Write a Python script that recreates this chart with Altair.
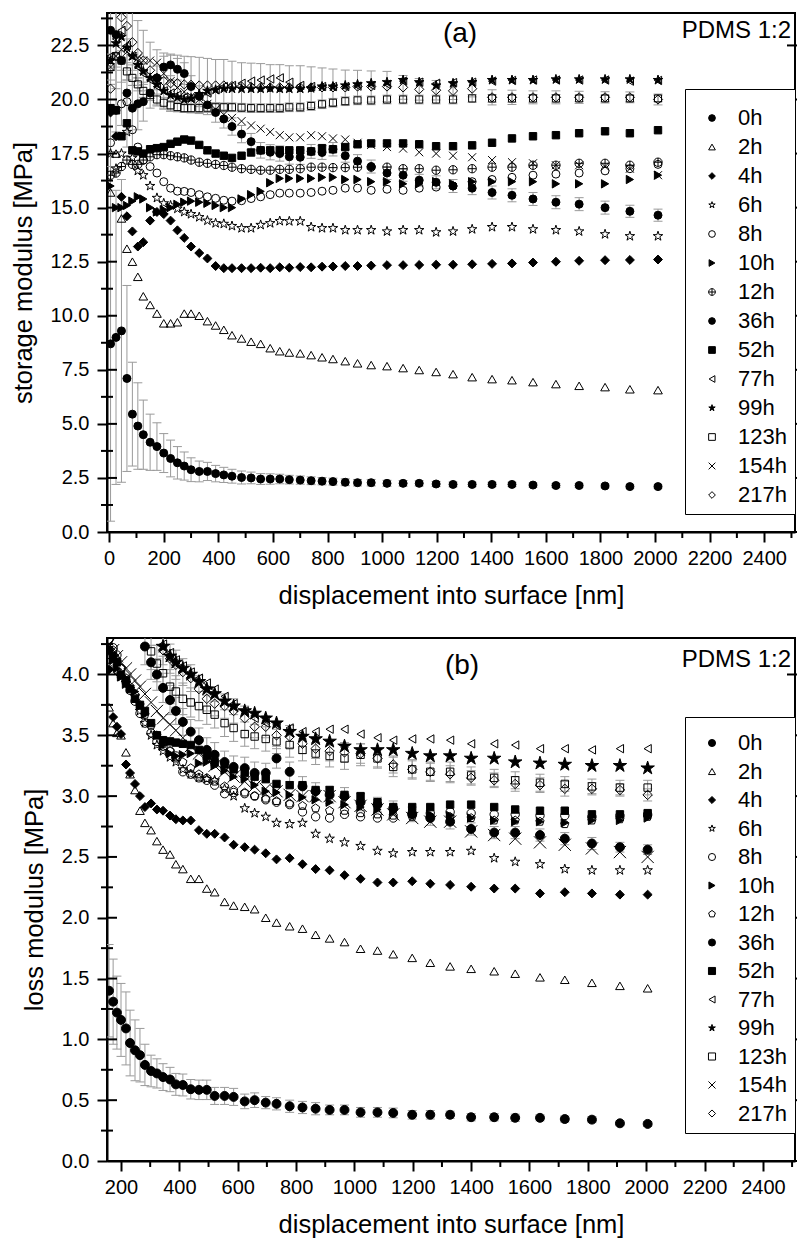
import altair as alt
import pandas as pd

FONT = "Liberation Sans"
SERIES = ["0h", "2h", "4h", "6h", "8h", "10h", "12h", "36h", "52h", "77h", "99h", "123h", "154h", "217h"]

# ---------------- panel (a): storage modulus ----------------
XA = [5, 25, 45, 65, 85, 105, 125, 150, 175, 200, 225, 250, 275, 300, 330, 360, 390, 420, 450, 485,
      520, 555, 590, 625, 660, 700, 740, 780, 820, 865, 910, 960, 1018, 1077, 1136, 1198, 1260, 1330,
      1403, 1476, 1553, 1637, 1722, 1817, 1908, 2011]
A_0h = [8.7, 9.0, 9.3, 7.1, 5.45, 4.9, 4.5, 4.15, 3.95, 3.65, 3.4, 3.2, 3.05, 2.88, 2.8, 2.8, 2.7, 2.64, 2.58, 2.52,
        2.5, 2.45, 2.45, 2.45, 2.42, 2.4, 2.37, 2.35, 2.33, 2.3, 2.28, 2.28, 2.25, 2.25, 2.25, 2.22, 2.2, 2.2,
        2.2, 2.2, 2.17, 2.15, 2.15, 2.13, 2.1, 2.1]
A_2h = [15.7, 17.5, 14.5, 13.1, 12.5, 11.8, 10.9, 10.5, 10.1, 9.65, 9.65, 9.7, 10.1, 10.1, 10.0, 9.75, 9.55, 9.35, 9.1, 8.95,
        8.8, 8.7, 8.5, 8.36, 8.3, 8.26, 8.18, 8.08, 8.0, 7.9, 7.8, 7.72, 7.67, 7.58, 7.49, 7.4, 7.3, 7.16,
        7.07, 7.02, 6.93, 6.84, 6.76, 6.7, 6.6, 6.56]
A_4h = [19.4, 18.3, 15.5, 14.6, 13.9, 13.2, 13.4, 14.4, 14.8, 14.7, 14.4, 13.95, 13.6, 13.2, 12.9, 12.65, 12.3, 12.2, 12.2, 12.2,
        12.2, 12.22, 12.2, 12.24, 12.22, 12.25, 12.24, 12.27, 12.28, 12.3, 12.3, 12.32, 12.34, 12.34, 12.35, 12.36, 12.36, 12.38,
        12.4, 12.42, 12.46, 12.5, 12.54, 12.57, 12.58, 12.6]
A_6h = [17.5, 16.8, 17.5, 18.5, 17.3, 16.7, 16.5, 16.0, 15.45, 15.2, 15.1, 14.95, 14.8, 14.7, 14.56, 14.4, 14.28, 14.25, 14.15, 14.05,
        14.05, 14.2, 14.28, 14.38, 14.37, 14.37, 14.1, 14.05, 14.05, 13.96, 13.96, 13.96, 13.9, 13.96, 13.96, 13.86, 13.9, 14.0,
        14.1, 14.1, 14.0, 13.96, 13.9, 13.77, 13.68, 13.68]
A_8h = [18.0, 19.5, 19.8, 19.9, 18.6, 17.8, 17.2, 16.9, 16.6, 16.2, 15.9, 15.76, 15.75, 15.7, 15.6, 15.5, 15.43, 15.34, 15.3, 15.32,
        15.42, 15.5, 15.6, 15.67, 15.67, 15.67, 15.7, 15.76, 15.8, 15.9, 15.9, 15.8, 15.85, 15.8, 15.9, 15.95, 16.0, 16.2,
        16.3, 16.4, 16.5, 16.55, 16.6, 16.7, 16.8, 17.0]
A_10h = [16.0, 15.0, 15.0, 15.1, 15.3, 15.5, 15.4, 15.0, 14.8, 14.9, 15.0, 15.15, 15.25, 15.3, 15.25, 15.2, 15.1, 15.0, 15.0, 15.4,
         15.6, 15.75, 16.15, 16.35, 16.35, 16.35, 16.35, 16.4, 16.4, 16.3, 16.3, 16.2, 16.2, 16.1, 16.1, 16.2, 16.1, 16.2,
         16.2, 16.2, 16.2, 16.1, 16.1, 16.1, 16.3, 16.5]
A_12h = [16.5, 16.6, 16.9, 17.2, 17.0, 17.0, 17.2, 17.35, 17.45, 17.45, 17.4, 17.35, 17.3, 17.2, 17.1, 17.05, 17.0, 16.95, 16.87, 16.8,
         16.77, 16.73, 16.73, 16.77, 16.77, 16.8, 16.87, 16.87, 16.85, 16.85, 16.87, 16.87, 16.87, 16.8, 16.8, 16.73, 16.75, 16.8,
         16.87, 16.87, 16.96, 16.96, 17.05, 17.05, 16.96, 17.1]
A_36h = [23.2, 23.0, 21.8, 20.3, 19.6, 19.8, 19.9, 20.3, 21.0, 21.5, 21.6, 21.4, 21.2, 20.6, 20.15, 19.75, 19.4, 19.1, 18.75, 18.4,
         18.05, 17.65, 17.56, 17.5, 17.35, 17.33, 17.6, 17.55, 17.7, 17.4, 17.15, 16.9, 16.6, 16.5, 16.27, 16.17, 16.0, 15.9,
         15.7, 15.57, 15.4, 15.25, 15.16, 15.0, 14.83, 14.65]
A_52h = [19.6, 19.5, 18.3, 18.9, 17.65, 17.6, 17.5, 17.7, 17.75, 17.8, 17.95, 18.05, 18.15, 18.1, 17.9, 17.65, 17.5, 17.4, 17.3, 17.4,
         17.55, 17.65, 17.65, 17.65, 17.65, 17.65, 17.6, 17.75, 17.7, 17.8, 17.93, 17.97, 17.97, 17.97, 17.93, 17.84, 17.84, 17.88,
         18.0, 18.2, 18.3, 18.35, 18.44, 18.53, 18.44, 18.58]
A_77h = [22.0, 22.8, 23.2, 22.5, 22.0, 21.5, 21.2, 20.9, 20.6, 20.4, 20.3, 20.2, 20.1, 20.05, 20.15, 20.3, 20.45, 20.6, 20.65, 20.75,
         20.85, 20.9, 20.95, 21.0, 20.8, 20.65, 20.6, 20.6, 20.6, 20.6, 20.62, 20.65, 20.7, 20.85, 20.8, 20.75, 20.78, 20.8,
         20.85, 20.88, 20.9, 20.9, 20.9, 20.9, 20.85, 20.88]
A_99h = [21.8, 22.6, 22.9, 22.4, 22.0, 21.6, 21.3, 21.0, 20.7, 20.4, 20.2, 20.1, 20.0, 20.05, 20.25, 20.4, 20.45, 20.5, 20.5, 20.5,
         20.5, 20.5, 20.52, 20.5, 20.5, 20.5, 20.52, 20.6, 20.6, 20.65, 20.7, 20.75, 20.8, 20.9, 20.8, 20.65, 20.75, 20.8,
         20.9, 20.9, 20.9, 20.93, 20.93, 20.93, 20.93, 20.9]
A_123h = [21.5, 22.0, 21.8, 21.3, 21.0, 20.7, 20.4, 20.2, 20.0, 19.85, 19.73, 19.65, 19.6, 19.6, 19.6, 19.62, 19.64, 19.64, 19.64, 19.62,
          19.6, 19.6, 19.6, 19.6, 19.64, 19.64, 19.7, 19.78, 19.85, 19.92, 19.96, 19.96, 20.0, 20.0, 20.0, 20.0, 20.0, 20.05,
          20.05, 20.05, 20.05, 20.05, 20.05, 20.05, 20.05, 20.05]
A_154h = [21.5, 22.0, 22.3, 22.2, 22.0, 21.9, 21.8, 21.8, 21.7, 21.2, 20.85, 20.55, 20.35, 20.15, 20.0, 19.8, 19.55, 19.3, 19.15, 19.0,
          18.8, 18.65, 18.5, 18.35, 18.25, 18.25, 18.35, 18.3, 18.2, 18.15, 18.0, 17.9, 17.8, 17.73, 17.56, 17.5, 17.4, 17.33,
          17.2, 17.1, 17.05, 16.96, 16.96, 16.9, 16.8, 16.5]
A_217h = [20.5, 22.0, 23.8, 23.4, 22.65, 22.15, 21.8, 21.35, 21.0, 20.85, 20.75, 20.75, 20.7, 20.68, 20.65, 20.65, 20.65, 20.65, 20.62, 20.6,
          20.58, 20.56, 20.56, 20.56, 20.56, 20.56, 20.56, 20.56, 20.56, 20.56, 20.6, 20.6, 20.6, 20.56, 20.47, 20.43, 20.4, 20.5,
          20.1, 20.1, 20.1, 20.1, 20.1, 20.1, 20.1, 20.0]
# error bars (half-width) for panel (a)
A_ERR_0h = [8.2, 6.8, 7.0, 4.3, 2.4, 2.0, 1.6, 1.3, 1.1, 0.9, 0.85, 0.75, 0.65, 0.55, 0.48, 0.42, 0.38, 0.35, 0.32, 0.3,
            0.27, 0.25, 0.24, 0.22, 0.2, 0.19, 0.18, 0.17, 0.16, 0.16, 0.15, 0.15, 0.14, 0.13, 0.12, 0.12, 0.11, 0.1,
            0.1, 0.1, 0.09, 0.09, 0.08, 0.08, 0.07, 0.07]
A_ERR_36h = [2.5, 2.5, 3.0, 2.5, 2.0, 1.2, 0.9, 0.7, 0.55, 0.5, 0.5, 0.5, 0.5, 0.5, 0.48, 0.45, 0.45, 0.42, 0.4, 0.4,
             0.38, 0.36, 0.35, 0.35, 0.34, 0.33, 0.32, 0.32, 0.31, 0.3, 0.3, 0.3, 0.3, 0.28, 0.27, 0.3, 0.3, 0.3,
             0.3, 0.3, 0.3, 0.3, 0.3, 0.3, 0.28, 0.28]
A_ERR_123h = [0.6, 0.5, 0.45, 0.4, 0.35, 0.3, 0.3, 0.25, 0.25, 0.25, 0.22, 0.22, 0.2, 0.2, 0.2, 0.2, 0.2, 0.2, 0.2, 0.2,
              0.2, 0.2, 0.2, 0.2, 0.2, 0.2, 0.2, 0.2, 0.2, 0.2, 0.2, 0.2, 0.2, 0.2, 0.2, 0.2, 0.2, 0.18, 0.18, 0.18,
              0.18, 0.18, 0.15, 0.15, 0.15, 0.15]
A_ERR_217h = [4.0, 3.5, 3.0, 2.5, 2.0, 1.5, 1.4, 1.3, 1.3, 1.3, 1.3, 1.3, 1.3, 1.3, 1.3, 1.25, 1.2, 1.2, 1.15, 1.1,
              1.1, 1.1, 1.05, 1.05, 1.0, 1.0, 0.95, 0.9, 0.85, 0.8, 0.75, 0.72, 0.7, 0.55, 0.5, 0.45, 0.4, 0.38,
              0.35, 0.33, 0.3, 0.3, 0.28, 0.26, 0.25, 0.25]

# ---------------- panel (b): loss modulus ----------------
XB = [159, 173, 186, 200, 217, 231, 248, 265, 282, 303, 323, 344, 368, 388, 412, 439, 467, 494, 521, 555,
      586, 624, 658, 696, 733, 778, 822, 867, 915, 966, 1021, 1079, 1133, 1198, 1260, 1328, 1400, 1479, 1551, 1636,
      1721, 1814, 1910, 2005]
N = None
B_0h = [1.40, 1.31, 1.22, 1.16, 1.09, 0.97, 0.91, 0.87, 0.79, 0.74, 0.72, 0.69, 0.67, 0.63, 0.625, 0.59, 0.585, 0.585, 0.535, 0.535,
        0.527, 0.49, 0.50, 0.48, 0.47, 0.45, 0.44, 0.43, 0.42, 0.42, 0.40, 0.40, 0.395, 0.38, 0.38, 0.38, 0.36, 0.36, 0.355, 0.355,
        0.345, 0.34, 0.31, 0.305]
B_2h = [3.73, 3.6, 3.52, 3.5, 3.36, 3.18, 3.05, 2.88, 2.78, 2.72, 2.63, 2.56, 2.52, 2.44, 2.4, 2.32, 2.32, 2.24, 2.21, 2.13,
        2.1, 2.09, 2.07, 2.0, 1.96, 1.93, 1.91, 1.86, 1.83, 1.8, 1.745, 1.73, 1.7, 1.67, 1.63, 1.6, 1.58, 1.56, 1.54, 1.51,
        1.49, 1.465, 1.44, 1.42]
B_4h = [4.04, 3.65, 3.57, 3.51, 3.26, 3.19, 3.1, 3.0, 2.91, 2.94, 2.89, 2.88, 2.84, 2.81, 2.8, 2.8, 2.72, 2.69, 2.69, 2.66,
        2.6, 2.58, 2.56, 2.53, 2.48, 2.49, 2.44, 2.4, 2.39, 2.35, 2.32, 2.29, 2.29, 2.3, 2.28, 2.27, 2.255, 2.24, 2.24, 2.2,
        2.21, 2.2, 2.19, 2.19]
B_6h = [4.15, 4.08, 4.03, 3.98, 3.93, 3.88, 3.82, 3.7, 3.6, 3.5, 3.42, 3.37, 3.32, 3.28, 3.22, 3.18, 3.15, 3.14, 3.13, 3.06,
        3.0, 2.9, 2.86, 2.83, 2.78, 2.77, 2.78, 2.69, 2.65, 2.62, 2.59, 2.55, 2.53, 2.54, 2.54, 2.54, 2.55, 2.49, 2.46, 2.44,
        2.4, 2.39, 2.39, 2.39]
B_8h = [4.29, 4.22, 4.16, 4.05, 3.95, 3.87, 3.78, 3.68, 3.6, 3.52, 3.45, 3.41, 3.37, 3.33, 3.2, 3.18, 3.15, 3.13, 3.09, 3.02,
        3.03, 3.02, 3.0, 2.97, 2.95, 2.93, 2.87, 2.83, 2.82, 2.85, 2.83, 2.82, 2.82, 2.86, 2.86, 2.87, 2.86, 2.85, 2.85, 2.84,
        2.84, 2.83, 2.84, 2.85]
B_10h = [4.2, 4.12, 4.05, 3.98, 3.92, 3.9, 3.86, 3.75, 3.67, 3.6, 3.5, 3.42, 3.35, 3.33, 3.34, 3.35, 3.27, 3.28, 3.25, 3.21,
         3.16, 3.14, 3.09, 3.04, 3.03, 3.01, 2.99, 2.97, 2.95, 2.93, 2.91, 2.89, 2.87, 2.86, 2.85, 2.84, 2.82, 2.8, 2.79, 2.79,
         2.78, 2.8, 2.8, 2.82]
B_12h = [4.28, 4.2, 4.12, 4.05, 3.97, 3.9, 3.83, 3.75, 3.67, 3.58, 3.5, 3.43, 3.37, 3.31, 3.28, 3.23, 3.18, 3.15, 3.12, 3.08,
         3.05, 3.03, 3.0, 2.98, 2.96, 2.94, 2.92, 2.9, 2.88, 2.88, 2.86, 2.85, 2.84, 2.83, 2.83, 2.83, 2.82, 2.8, 2.8, 2.79,
         2.77, 2.8, 2.81, 2.83]
B_36h = [N, N, N, N, N, N, N, N, 4.23, 4.1, 4.0, 3.89, 3.79, 3.7, 3.61, 3.53, 3.46, 3.38, 3.34, 3.28,
         3.24, 3.23, 3.19, 3.19, 3.31, 3.2, 3.08, 3.04, 3.01, 3.0, 2.95, 2.93, 2.9, 2.85, 2.82, 2.79, 2.73, 2.7, 2.7, 2.68,
         2.65, 2.61, 2.58, 2.56]
B_52h = [4.2, 4.15, 4.1, 4.0, 3.95, 3.88, 3.8, 3.75, 3.7, 3.6, 3.5, 3.46, 3.45, 3.44, 3.43, 3.42, 3.38, 3.33, 3.28, 3.26,
         3.22, 3.19, 3.16, 3.14, 3.1, 3.09, 3.09, 3.05, 3.05, 3.01, 3.0, 2.95, 2.91, 2.91, 2.91, 2.93, 2.93, 2.91, 2.89, 2.88,
         2.88, 2.85, 2.85, 2.86]
B_77h = [N, N, N, N, N, N, N, N, N, N, N, 4.25, 4.18, 4.12, 4.07, 4.02, 3.97, 3.93, 3.88, 3.82,
         3.76, 3.7, 3.64, 3.6, 3.58, 3.56, 3.53, 3.53, 3.55, 3.55, 3.51, 3.48, 3.46, 3.47, 3.47, 3.46, 3.43, 3.43, 3.42, 3.39,
         3.39, 3.38, 3.39, 3.39]
B_99h = [N, N, N, N, N, N, N, N, N, N, N, 4.23, 4.15, 4.1, 4.05, 4.0, 3.94, 3.88, 3.84, 3.78,
         3.74, 3.7, 3.68, 3.64, 3.6, 3.53, 3.49, 3.47, 3.45, 3.41, 3.38, 3.38, 3.38, 3.35, 3.33, 3.33, 3.31, 3.31, 3.28, 3.27,
         3.26, 3.25, 3.25, 3.23]
B_123h = [N, N, N, N, N, N, N, N, N, 4.19, 4.09, 4.01, 3.9, 3.86, 3.8, 3.77, 3.74, 3.71, 3.67, 3.6,
          3.56, 3.51, 3.49, 3.47, 3.45, 3.42, 3.38, 3.35, 3.33, 3.31, 3.34, 3.31, 3.24, 3.22, 3.2, 3.2, 3.17, 3.15, 3.13, 3.11,
          3.1, 3.08, 3.07, 3.07]
B_154h = [4.25, 4.2, 4.15, 4.1, 4.05, 4.0, 3.95, 3.9, 3.84, 3.77, 3.7, 3.64, 3.59, 3.54, 3.48, 3.41, 3.35, 3.3, 3.25, 3.2,
          3.16, 3.12, 3.08, 3.06, 3.04, 3.01, 3.0, 3.0, 3.0, 2.95, 2.92, 2.89, 2.85, 2.82, 2.79, 2.79, 2.71, 2.68, 2.65, 2.62,
          2.6, 2.57, 2.54, 2.5]
B_217h = [N, N, N, N, N, N, N, N, N, N, N, 4.2, 4.13, 4.08, 4.02, 3.97, 3.88, 3.8, 3.76, 3.74,
          3.7, 3.64, 3.57, 3.57, 3.5, 3.49, 3.43, 3.39, 3.37, 3.36, 3.35, 3.31, 3.26, 3.22, 3.2, 3.18, 3.15, 3.13, 3.1, 3.09,
          3.06, 3.06, 3.05, 3.01]
B_ERR_0h = [0.38, 0.35, 0.3, 0.3, 0.3, 0.27, 0.25, 0.22, 0.17, 0.13, 0.12, 0.11, 0.1, 0.09, 0.09, 0.08, 0.08, 0.08, 0.07, 0.07,
            0.07, 0.06, 0.06, 0.05, 0.05, 0.05, 0.05, 0.05, 0.04, 0.04, 0.04, 0.04, 0.04, 0.035, 0.035, 0.03, 0.03, 0.03, 0.03, 0.025,
            0.025, 0.025, 0.02, 0.02]
B_ERR_36h = [N, N, N, N, N, N, N, N, 0.15, 0.14, 0.13, 0.12, 0.12, 0.11, 0.11, 0.1, 0.1, 0.1, 0.1, 0.09,
             0.09, 0.09, 0.09, 0.08, 0.08, 0.08, 0.08, 0.07, 0.07, 0.07, 0.07, 0.06, 0.06, 0.06, 0.06, 0.06, 0.05, 0.05, 0.05, 0.05,
             0.05, 0.05, 0.04, 0.04]
B_ERR_123h = [N, N, N, N, N, N, N, N, N, 0.15, 0.15, 0.14, 0.14, 0.13, 0.13, 0.12, 0.12, 0.12, 0.11, 0.11,
              0.11, 0.1, 0.1, 0.1, 0.1, 0.1, 0.09, 0.09, 0.09, 0.09, 0.09, 0.08, 0.08, 0.08, 0.08, 0.08, 0.07, 0.07, 0.07, 0.07,
              0.06, 0.06, 0.06, 0.06]
B_ERR_217h = [N, N, N, N, N, N, N, N, N, N, N, 0.12, 0.12, 0.12, 0.11, 0.11, 0.11, 0.1, 0.1, 0.1,
              0.1, 0.1, 0.09, 0.09, 0.09, 0.09, 0.08, 0.08, 0.08, 0.08, 0.08, 0.07, 0.07, 0.07, 0.07, 0.07, 0.06, 0.06, 0.06, 0.06,
              0.06, 0.05, 0.05, 0.05]

# axis tick lists
XA_TICKS = [0, 200, 400, 600, 800, 1000, 1200, 1400, 1600, 1800, 2000, 2200, 2400]
XA_MINOR = [100, 300, 500, 700, 900, 1100, 1300, 1500, 1700, 1900, 2100, 2300, 2500]
YA_TICKS = [0.0, 2.5, 5.0, 7.5, 10.0, 12.5, 15.0, 17.5, 20.0, 22.5]
YA_MINOR = [1.25, 3.75, 6.25, 8.75, 11.25, 13.75, 16.25, 18.75, 21.25, 23.75]
XB_TICKS = [200, 400, 600, 800, 1000, 1200, 1400, 1600, 1800, 2000, 2200, 2400]
XB_MINOR = [300, 500, 700, 900, 1100, 1300, 1500, 1700, 1900, 2100, 2300, 2500]
YB_TICKS = [0.0, 0.5, 1.0, 1.5, 2.0, 2.5, 3.0, 3.5, 4.0]
YB_MINOR = [0.25, 0.75, 1.25, 1.75, 2.25, 2.75, 3.25, 3.75, 4.25]

# marker styles
STAR = "M0,-1L0.223,-0.307L0.951,-0.309L0.361,0.117L0.588,0.809L0,0.38L-0.588,0.809L-0.361,0.117L-0.951,-0.309L-0.223,-0.307Z"
PENT = "M0,-1L0.951,-0.309L0.588,0.809L-0.588,0.809L-0.951,-0.309Z"
XSH = "M-1,-1L1,1M-1,1L1,-1"
CPLUS = "M-1,0A1,1,0,1,1,1,0A1,1,0,1,1,-1,0ZM-1,0L1,0M0,-1L0,1"
SHAPES_A = ["circle", "triangle-up", "diamond", STAR, "circle", "triangle-right", CPLUS, "circle", "square",
            "triangle-left", STAR, "square", XSH, "diamond"]
SHAPES_B = ["circle", "triangle-up", "diamond", STAR, "circle", "triangle-right", PENT, "circle", "square",
            "triangle-left", STAR, "square", XSH, "diamond"]
FILLS = ["black", "transparent", "black", "transparent", "transparent", "black", "transparent", "black", "black",
         "transparent", "black", "transparent", "transparent", "transparent"]
SIZES_A = [64, 75, 80, 100, 64, 70, 70, 64, 55, 70, 100, 50, 64, 85]
SIZES_B = [80, 75, 80, 100, 70, 70, 75, 80, 55, 70, 200, 55, 150, 90]

W = 688
HA = 519
HB = 523


def long_df(xs, series_map, sizes):
    rows = []
    for s, sz in zip(SERIES, sizes):
        for x, y in zip(xs, series_map[s]):
            if y is not None:
                rows.append({"x": x, "y": y, "series": s, "sz": sz})
    return pd.DataFrame(rows)


def err_df(xs, ymap, emap):
    rows = []
    for s, errs in emap.items():
        for x, y, e in zip(xs, ymap[s], errs):
            if y is not None and e is not None:
                rows.append({"x": x, "lo": y - e, "hi": y + e})
    return pd.DataFrame(rows)


A_MAP = {"0h": A_0h, "2h": A_2h, "4h": A_4h, "6h": A_6h, "8h": A_8h, "10h": A_10h, "12h": A_12h, "36h": A_36h,
         "52h": A_52h, "77h": A_77h, "99h": A_99h, "123h": A_123h, "154h": A_154h, "217h": A_217h}
B_MAP = {"0h": B_0h, "2h": B_2h, "4h": B_4h, "6h": B_6h, "8h": B_8h, "10h": B_10h, "12h": B_12h, "36h": B_36h,
         "52h": B_52h, "77h": B_77h, "99h": B_99h, "123h": B_123h, "154h": B_154h, "217h": B_217h}
A_ERR = {"0h": A_ERR_0h, "36h": A_ERR_36h, "123h": A_ERR_123h, "217h": A_ERR_217h}
B_ERR = {"0h": B_ERR_0h, "36h": B_ERR_36h, "123h": B_ERR_123h, "217h": B_ERR_217h}

XTITLE = "displacement into surface [nm]"


def panel(df, edf, xdom, ydom, xticks, xminor, yticks, yminor, ytitle, shapes, label, lab_xy, pdms_y,
          lx, ly, H, symsize, row_pad, head_size):
    xs = alt.Scale(domain=xdom, nice=False, zero=False)
    ys = alt.Scale(domain=ydom, nice=False, zero=False)
    xax = alt.Axis(values=xticks, format="d", labelPadding=6, titlePadding=15)
    yax = alt.Axis(values=yticks, format=".1f", labelPadding=8, titlePadding=14)

    def X(f):
        return alt.X(f, type="quantitative", scale=xs, axis=xax, title=XTITLE)

    def Y(f):
        return alt.Y(f, type="quantitative", scale=ys, axis=yax, title=ytitle)

    leg = alt.Legend(title=" ", titleFontSize=head_size, titlePadding=2, orient="none", legendX=lx, legendY=ly,
                     strokeColor="black", fillColor="white",
                     padding=8, labelFontSize=22, labelFont=FONT, labelColor="black", rowPadding=row_pad,
                     symbolOffset=8, labelOffset=15, symbolStrokeColor="black", symbolStrokeWidth=1,
                     symbolSize=symsize, cornerRadius=0)

    rules = alt.Chart(edf).mark_rule(color="#9a9a9a", strokeWidth=1, clip=True).encode(
        x=X("x"), y=Y("lo"), y2="hi:Q")
    cap_lo = alt.Chart(edf).mark_point(shape="stroke", size=81, stroke="#9a9a9a", strokeWidth=1, opacity=1,
                                       clip=True).encode(x=X("x"), y=Y("lo"))
    cap_hi = alt.Chart(edf).mark_point(shape="stroke", size=81, stroke="#9a9a9a", strokeWidth=1, opacity=1,
                                       clip=True).encode(x=X("x"), y=Y("hi"))
    pts = alt.Chart(df).mark_point(filled=False, strokeWidth=1, opacity=1, clip=True).encode(
        x=X("x"), y=Y("y"),
        shape=alt.Shape("series:N", scale=alt.Scale(domain=SERIES, range=shapes), legend=leg),
        fill=alt.Fill("series:N", scale=alt.Scale(domain=SERIES, range=FILLS), legend=leg),
        stroke=alt.Stroke("series:N", scale=alt.Scale(domain=SERIES, range=["black"] * len(SERIES)), legend=leg),
        size=alt.Size("sz:Q", scale=None),
    )
    xm = alt.Chart(pd.DataFrame({"x": xminor})).mark_rule(color="black", strokeWidth=2).encode(
        x=X("x"), y=alt.value(H), y2=alt.value(H + 6))
    ymaj_in = alt.Chart(pd.DataFrame({"y": yticks})).mark_rule(color="black", strokeWidth=2).encode(
        y=Y("y"), x=alt.value(0), x2=alt.value(10))
    ymin = alt.Chart(pd.DataFrame({"y": yminor})).mark_rule(color="black", strokeWidth=2).encode(
        y=Y("y"), x=alt.value(-6), x2=alt.value(6))
    ymaj_r = alt.Chart(pd.DataFrame({"y": yticks})).mark_rule(color="black", strokeWidth=2).encode(
        y=Y("y"), x=alt.value(W - 8), x2=alt.value(W + 2))
    tlab = alt.Chart(pd.DataFrame({"t": [label]})).mark_text(
        font=FONT, fontSize=28, align="center", baseline="alphabetic", color="black").encode(
        text="t:N", x=alt.value(lab_xy[0]), y=alt.value(lab_xy[1]))
    tpd = alt.Chart(pd.DataFrame({"t": ["PDMS 1:2"]})).mark_text(
        font=FONT, fontSize=24, align="right", baseline="alphabetic", color="black").encode(
        text="t:N", x=alt.value(684), y=alt.value(pdms_y))
    return alt.layer(rules, cap_lo, cap_hi, pts, xm, ymaj_in, ymin, ymaj_r, tlab, tpd).properties(width=W, height=H)


dfa = long_df(XA, A_MAP, SIZES_A)
dfb = long_df(XB, B_MAP, SIZES_B)
ea = err_df(XA, A_MAP, A_ERR)
eb = err_df(XB, B_MAP, B_ERR)

pa = panel(dfa, ea, [-8, 2513], [0, 24], XA_TICKS, XA_MINOR, YA_TICKS, YA_MINOR, "storage modulus [MPa]",
           SHAPES_A, "(a)", (353, 29), 25, 578, 76, HA, 45, 7.0, 8)
pb = panel(dfb, eb, [152, 2510], [0, 4.3], XB_TICKS, XB_MINOR, YB_TICKS, YB_MINOR, "loss modulus [MPa]",
           SHAPES_B, "(b)", (355, 36), 29, 578, 79, HB, 50, 6.5, 5)

chart = alt.vconcat(pa, pb, spacing=27).resolve_scale(
    shape="independent", fill="independent", stroke="independent"
).configure(
    font=FONT, padding={"left": 10, "top": 12, "right": 0, "bottom": 0}
).configure_view(stroke="black", strokeWidth=2).configure_axis(
    labelFont=FONT, titleFont=FONT, labelFontSize=20, titleFontSize=25.5, titleFontWeight="normal",
    labelColor="black", titleColor="black", domainColor="black", domainWidth=2, tickColor="black",
    tickWidth=2, tickSize=10, grid=False
)

chart.save("out.html", embed_options={"renderer": "svg", "actions": False})
